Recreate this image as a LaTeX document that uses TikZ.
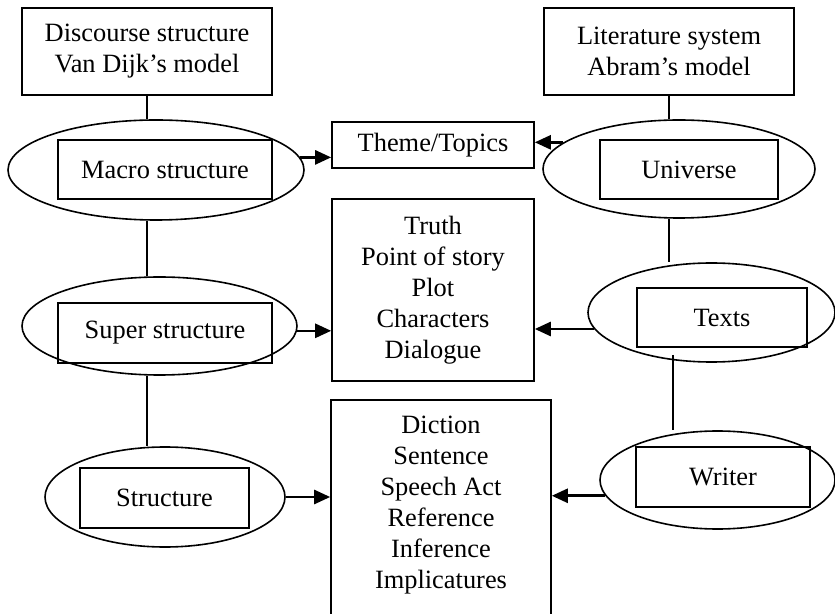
\documentclass[tikz,border=0pt]{standalone}
\usepackage{fontspec}
\setmainfont{Liberation Serif}
\usetikzlibrary{shapes.geometric,arrows.meta}

\begin{document}
\begin{tikzpicture}
    [x=0.5pt, y=-0.5pt,
    every node/.style={font=\fontsize{13.2}{15.5}\selectfont, align=center},
    block/.style={rectangle, draw, line width=0.8pt},
    oval/.style={ellipse, draw, line width=0.8pt, inner sep=0pt},
    link/.style={line width=0.8pt},
    arrow/.style={line width=1.3pt, -{Triangle[length=8pt,width=7pt]}}]
    \useasboundingbox (0,0) rectangle (835,614);
    \node[block, minimum width=125pt, minimum height=43.5pt] (disc) at (147,51.5) {Discourse structure\\Van Dijk's model};
    \node[block, minimum width=125pt, minimum height=43.5pt] (lit) at (669,51.5) {Literature system\\Abram's model};
    \node[oval, minimum width=148pt, minimum height=50pt] (macroE) at (156,170) {};
    \node[block, minimum width=107pt, minimum height=29.5pt] (macro) at (165,169.5) {Macro structure};
    \node[oval, minimum width=137.5pt, minimum height=49pt] (superE) at (159.5,326) {};
    \node[block, minimum width=107pt, minimum height=30pt] (super) at (165,333) {Super structure};
    \node[oval, minimum width=120pt, minimum height=50pt] (structE) at (165,497) {};
    \node[block, minimum width=84.5pt, minimum height=30pt] (struct) at (164.5,498) {Structure};
    \node[block, minimum width=101pt, minimum height=23pt] (theme) at (433,145) {Theme/Topics};
    \node[block, minimum width=101pt, minimum height=91pt] (truth) at (433,290) {Truth\\Point of story\\Plot\\Characters\\Dialogue};
    \node[block, minimum width=110pt, minimum height=125pt] (diction) at (441,525) {};
    \node (dictlist) at (441,505) {Diction\\Sentence\\Speech Act\\Reference\\Inference\\Implicatures};
    \node[oval, minimum width=136pt, minimum height=49pt] (universeE) at (679,169) {};
    \node[block, minimum width=89pt, minimum height=29.5pt] (universe) at (689,169.5) {Universe};
    \node[oval, minimum width=123.5pt, minimum height=49.5pt] (textsE) at (711.5,312.5) {};
    \node[block, minimum width=85pt, minimum height=29.5pt] (texts) at (722,317.5) {Texts};
    \node[oval, minimum width=117.5pt, minimum height=49pt] (writerE) at (717.5,480) {};
    \node[block, minimum width=87pt, minimum height=30pt] (writer) at (723,477) {Writer};
    \draw[link] (disc.south) -- (disc.south |- macroE.north);
    \draw[link] (macroE.south -| disc.south) -- (superE.north -| disc.south);
    \draw[link] (superE.south -| disc.south) -- (structE.north -| disc.south);
    \draw[link] (lit.south) -- (lit.south |- universeE.north);
    \draw[link] (universeE.south -| lit.south) -- (textsE.north -| lit.south);
    \draw[link] ([xshift=2pt, yshift=4pt]textsE.south -| lit.south) -- ([xshift=2pt]writerE.north -| lit.south);
    \draw[arrow] (macroE.5) -- (macroE.5 -| theme.west);
    \draw[arrow] (universeE.167) -- (universeE.167 -| theme.east);
    \draw[arrow] (superE.-2) -- (superE.-2 -| truth.west);
    \draw[arrow] (textsE.188) -- (textsE.188 -| truth.east);
    \draw[arrow] (structE.east) -- (structE.east -| diction.west);
    \draw[arrow] (writerE.188) -- (writerE.188 -| diction.east);
\end{tikzpicture}
\end{document}
